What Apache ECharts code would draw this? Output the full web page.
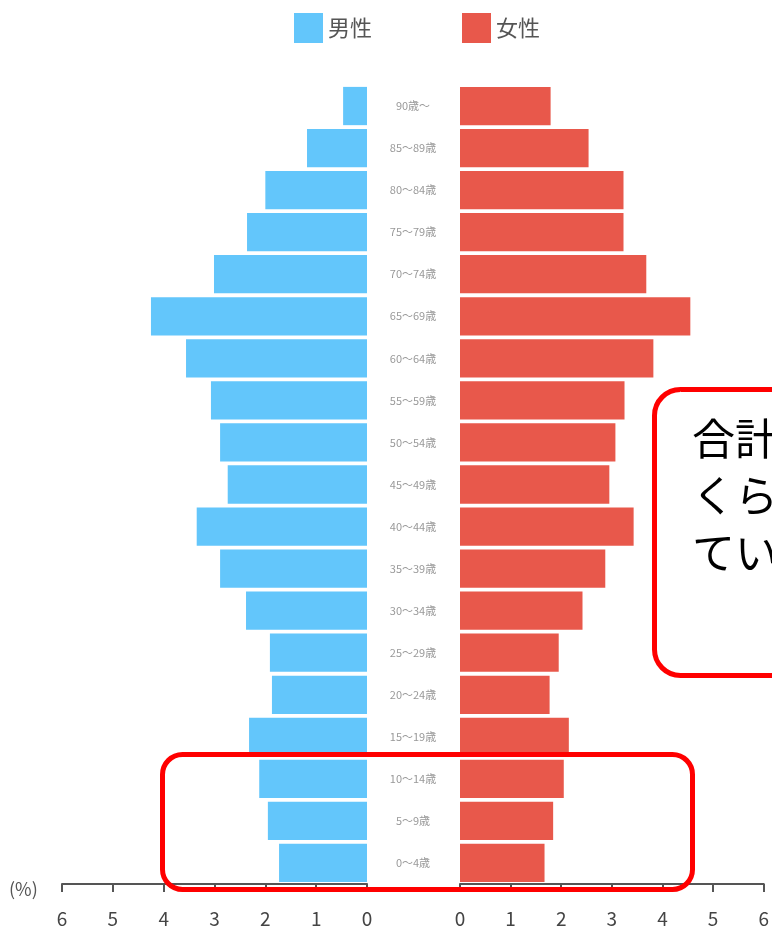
<!DOCTYPE html>
<html>
<head>
<meta charset="utf-8">
<script src="https://cdn.jsdelivr.net/npm/echarts@6/dist/echarts.min.js"></script>
<style>
  html, body { margin: 0; padding: 0; background: #fff; }
  #main { width: 772px; height: 934px; }
</style>
</head>
<body>
<div id="main"></div>
<script>
// age groups, bottom to top
var ages = ['0～4歳', '5～9歳', '10～14歳', '15～19歳', '20～24歳', '25～29歳', '30～34歳',
  '35～39歳', '40～44歳', '45～49歳', '50～54歳', '55～59歳', '60～64歳', '65～69歳',
  '70～74歳', '75～79歳', '80～84歳', '85～89歳', '90歳～'];
var male = [1.73, 1.95, 2.12, 2.32, 1.87, 1.91, 2.38, 2.89, 3.35, 2.74, 2.89, 3.07, 3.56, 4.25,
  3.01, 2.36, 2.0, 1.18, 0.47];
var female = [1.67, 1.84, 2.05, 2.15, 1.77, 1.95, 2.42, 2.87, 3.43, 2.95, 3.07, 3.25, 3.82, 4.55,
  3.68, 3.23, 3.23, 2.54, 1.79];
var ticks = [0, 1, 2, 3, 4, 5, 6];

var blue = '#63c6fb';
var red = '#e8584b';
var font = '"Noto Sans CJK JP", sans-serif';

var myChart = echarts.init(document.getElementById('main'), null, { renderer: 'canvas' });

function valueAxis(grid, inverse) {
  return {
    type: 'value',
    gridIndex: grid,
    inverse: inverse,
    min: ticks[0],
    max: ticks[ticks.length - 1],
    interval: 1,
    axisLine: { show: true, lineStyle: { color: '#555', width: 2 } },
    axisTick: { show: true, length: 8, lineStyle: { color: '#555', width: 2 } },
    axisLabel: { color: '#444', fontSize: 19, margin: 25, fontFamily: font },
    splitLine: { show: false }
  };
}

var option = {
  backgroundColor: '#fff',
  animation: false,
  legend: {
    left: 289,
    top: 8,
    icon: 'rect',
    itemWidth: 29,
    itemHeight: 30,
    itemGap: 90,
    textStyle: { fontSize: 22, color: '#555', fontFamily: font },
    data: ['男性', '女性']
  },
  grid: [
    { left: 62, width: 305, top: 85, bottom: 50 },
    { left: 460, right: 7, top: 85, bottom: 50 }
  ],
  xAxis: [valueAxis(0, true), valueAxis(1, false)],
  yAxis: [
    {
      type: 'category', gridIndex: 0, data: ages,
      axisLine: { show: false }, axisTick: { show: false }, axisLabel: { show: false }
    },
    {
      type: 'category', gridIndex: 1, data: ages, position: 'left',
      axisLine: { show: false }, axisTick: { show: false },
      axisLabel: { color: '#999', fontSize: 11, align: 'center', margin: 47, fontFamily: font }
    }
  ],
  series: [
    {
      name: '男性', type: 'bar', xAxisIndex: 0, yAxisIndex: 0, data: male,
      barCategoryGap: '9%', itemStyle: { color: blue }
    },
    {
      name: '女性', type: 'bar', xAxisIndex: 1, yAxisIndex: 1, data: female,
      barCategoryGap: '9%', itemStyle: { color: red }
    }
  ],
  graphic: [
    {
      type: 'text', left: 9, top: 880,
      style: { text: '(%)', fontSize: 18, fill: '#555', fontFamily: font }
    },
    {
      type: 'rect', left: 160, top: 752, z: 100,
      shape: { width: 530, height: 135, r: 20 },
      style: { fill: 'none', stroke: '#ff0000', lineWidth: 5 }
    },
    {
      type: 'rect', left: 652, top: 387, z: 100,
      shape: { width: 160, height: 286, r: 26 },
      style: { fill: '#fff', stroke: '#ff0000', lineWidth: 5 }
    },
    {
      type: 'text', left: 692, top: 410, z: 101,
      style: { text: '合計\nくら\nてい', fontSize: 43, lineHeight: 57, fill: '#000', fontFamily: font }
    }
  ]
};

myChart.setOption(option);
window.addEventListener('resize', myChart.resize);
</script>
</body>
</html>
